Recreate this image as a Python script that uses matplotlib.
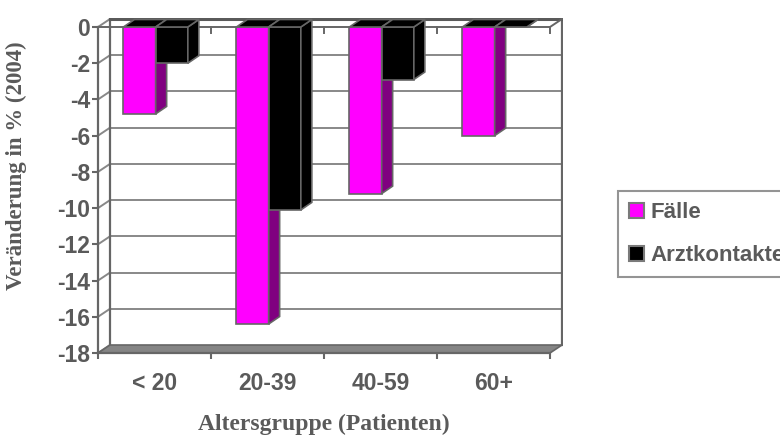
import matplotlib
matplotlib.use("Agg")
import matplotlib.pyplot as plt
from matplotlib.patches import Polygon, Patch

# data
categories = ["< 20", "20-39", "40-59", "60+"]
faelle = [-4.8, -16.4, -9.2, -6.0]
arztkontakte = [-2.0, -10.1, -2.9, 0.0]
series_names = ["Fälle", "Arztkontakte"]
yticks = list(range(0, -19, -2))

front_colors = ["#ff00ff", "#000000"]
side_colors = ["#800080", "#000000"]
top_colors = ["#000000", "#000000"]
edge = "#666666"
grid_c = "#888888"
text_c = "#5a5a5a"

W, H = 780, 444
fig = plt.figure(figsize=(W / 100, H / 100), dpi=100)

# plot area in pixels (front axis 98..550, value 0 at y=27, -18 at y=353)
x0, x1 = 98, 563
ytop, ybot = 18, 353
ppu_x = 113.0
ppu_y = (353 - 27) / 18.0
ax = fig.add_axes([x0 / W, 1 - ybot / H, (x1 - x0) / W, (ybot - ytop) / H])
ax.set_xlim(0, (x1 - x0) / ppu_x)
ax.set_ylim(yticks[-1], (27 - ytop) / ppu_y)
ax.patch.set_visible(False)

ncat = len(categories)
ymin = yticks[-1]
DX, DY = 12 / ppu_x, 8 / ppu_y        # wall depth
BDX, BDY = 11 / ppu_x, 7.5 / ppu_y    # bar depth

# back wall + side wall grid
for v in yticks[:-1]:
    ax.plot([DX, ncat + DX], [v + DY, v + DY], color=grid_c, lw=1.4, zorder=1)
for v in yticks:
    ax.plot([0, DX], [v, v + DY], color=grid_c, lw=1.4, zorder=1)
ax.plot([DX, DX], [ymin + DY, DY], color=edge, lw=1.6, zorder=1)
ax.plot([ncat + DX, ncat + DX], [ymin + DY, DY], color=edge, lw=1.6, zorder=1)
ax.plot([DX, ncat + DX], [DY, DY], color="#5a5a5a", lw=2.2, zorder=1)
ax.plot([ncat, ncat + DX], [0, DY], color=edge, lw=1.4, zorder=1)

# floor
ax.add_patch(Polygon([(0, ymin), (ncat, ymin), (ncat + DX, ymin + DY), (DX, ymin + DY)],
                     closed=True, facecolor="#858585", edgecolor="#666666", lw=1.2, zorder=2))

# category axis at value 0
ax.plot([0, ncat], [0, 0], color=edge, lw=1.4, zorder=2)
for i in range(1, ncat + 1):
    ax.plot([i, i], [0, -6 / ppu_y], color=edge, lw=1.4, zorder=2)

# bars
o1, w = 0.225, 0.285
z = 3
for i in range(ncat):
    for j, vals in enumerate([faelle, arztkontakte]):
        v = vals[i]
        xl = i + o1 + j * w
        xr = xl + w
        ax.bar(xl, v, width=w, bottom=0, align="edge", color=front_colors[j],
               edgecolor=edge, lw=1.2, zorder=z)
        ax.add_patch(Polygon([(xr, 0), (xr + BDX, BDY), (xr + BDX, v + BDY), (xr, v)],
                             closed=True, facecolor=side_colors[j], edgecolor=edge, lw=1.2, zorder=z))
        ax.add_patch(Polygon([(xl, 0), (xr, 0), (xr + BDX, BDY), (xl + BDX, BDY)],
                             closed=True, facecolor=top_colors[j], edgecolor=edge, lw=1.2, zorder=z))
        z += 1

# axes
for s in ["top", "right"]:
    ax.spines[s].set_visible(False)
ax.spines["left"].set_bounds(ymin, 0)
ax.spines["bottom"].set_bounds(0, ncat)
for s in ["left", "bottom"]:
    ax.spines[s].set_color(edge)
    ax.spines[s].set_linewidth(1.6)

ax.set_yticks(yticks)
ax.set_yticklabels([str(v) for v in yticks])
ax.set_xticks([i + 0.5 for i in range(ncat)])
ax.set_xticklabels(categories)
ax.set_xticks(range(ncat + 1), minor=True)
ax.tick_params(axis="y", direction="out", length=4, width=1.5, color=edge, pad=1.5,
               labelsize=16.5, labelcolor=text_c)
ax.tick_params(axis="x", which="major", length=0, pad=14, labelsize=16.5, labelcolor=text_c)
ax.tick_params(axis="x", which="minor", direction="out", length=4.5, width=1.5, color=edge)
for lab in ax.get_xticklabels() + ax.get_yticklabels():
    lab.set_fontfamily("Liberation Sans")
    lab.set_fontweight("bold")

fig.text(16 / W, 1 - 166 / H, "Veränderung in % (2004)", rotation=90, ha="center", va="center",
         fontsize=16.5, fontweight="bold", family="Liberation Serif", color=text_c)
fig.text((98 + 550) / 2 / W, 1 - 424 / H, "Altersgruppe (Patienten)", ha="center", va="center",
         fontsize=17, fontweight="bold", family="Liberation Serif", color=text_c)

# legend
handles = [Patch(facecolor=front_colors[k], edgecolor="#7a7a7a", lw=1.5) for k in range(2)]
leg = fig.legend(handles, series_names, loc="upper left", bbox_to_anchor=(618 / W, 1 - 191 / H),
                 frameon=True, fancybox=False, borderpad=0.5, labelspacing=1.0,
                 handlelength=0.66, handleheight=0.66, handletextpad=0.3, borderaxespad=0,
                 prop={"family": "Liberation Sans", "weight": "bold", "size": 16})
leg.get_frame().set_edgecolor("#7a7a7a")
leg.get_frame().set_linewidth(1.5)
for t in leg.get_texts():
    t.set_color(text_c)

fig.savefig("out.png", dpi=100)
